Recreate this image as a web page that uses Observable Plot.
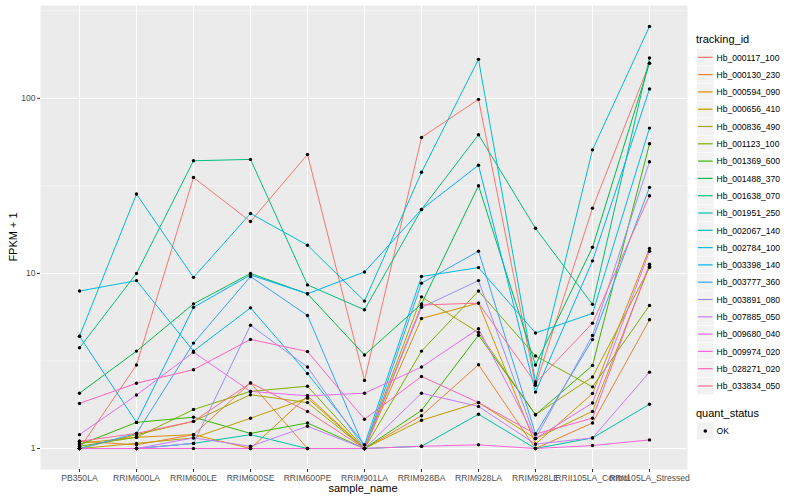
<!DOCTYPE html>
<html><head><meta charset="utf-8">
<script src="https://cdn.jsdelivr.net/npm/d3@7"></script>
<script src="https://cdn.jsdelivr.net/npm/@observablehq/plot@0.6"></script>
<style>
body{margin:0;background:#fff;}
#wrap{position:relative;width:800px;height:500px;font-family:"Liberation Sans",Arial,sans-serif;color:#000;}
.abs{position:absolute;white-space:nowrap;}
</style></head><body><div id="wrap"></div>
<script>
const samples = ["PB350LA","RRIM600LA","RRIM600LE","RRIM600SE","RRIM600PE","RRIM901LA","RRIM928BA","RRIM928LA","RRIM928LE","RRII105LA_Control","RRII105LA_Stressed"];
const trackingIds = ["Hb_000117_100","Hb_000130_230","Hb_000594_090","Hb_000656_410","Hb_000836_490","Hb_001123_100","Hb_001369_600","Hb_001488_370","Hb_001638_070","Hb_001951_250","Hb_002067_140","Hb_002784_100","Hb_003398_140","Hb_003777_360","Hb_003891_080","Hb_007885_050","Hb_009680_040","Hb_009974_020","Hb_028271_020","Hb_033834_050"];
const seriesColors = ["#F8766D","#EA8331","#D89000","#C09B00","#A3A500","#7CAE00","#39B600","#00BB4E","#00BF7D","#00C1A3","#00BFC4","#00BAE0","#00B0F6","#35A2FF","#9590FF","#C77CFF","#E76BF3","#FA62DB","#FF62BC","#FF6C91"];

// FPKM + 1 per sample, in the order of `samples`
const hb_000117_100 = [1.0, 3.0, 35.3, 19.8, 47.8, 2.45, 59.8, 98.7, 2.3, 23.6, 158.6];
const hb_000130_230 = [1.1, 1.05, 1.2, 2.37, 1.0, 1.0, 1.54, 3.01, 1.0, 1.40, 5.44];
const hb_000594_090 = [1.07, 1.16, 1.2, 1.0, 2.0, 1.0, 5.53, 6.77, 1.06, 2.06, 13.9];
const hb_000656_410 = [1.0, 1.07, 1.15, 1.49, 1.94, 1.0, 1.45, 1.83, 1.14, 1.63, 11.0];
const hb_000836_490 = [1.0, 1.2, 1.43, 2.03, 1.83, 1.0, 7.35, 4.6, 1.56, 2.56, 10.8];
const hb_001123_100 = [1.03, 1.16, 1.67, 2.12, 2.27, 1.0, 3.6, 7.93, 3.38, 2.25, 6.56];
const hb_001369_600 = [1.05, 1.41, 1.51, 1.22, 1.4, 1.0, 1.65, 4.44, 1.56, 2.98, 55];
const hb_001488_370 = [2.07, 3.6, 6.7, 10.0, 7.65, 3.42, 6.7, 31.7, 3.0, 14.1, 158.6];
const hb_001638_070 = [3.76, 10.0, 44, 44.8, 8.6, 6.2, 23.2, 62, 18.1, 6.66, 170];
const hb_001951_250 = [1.0, 1.0, 1.07, 1.2, 1.0, 1.0, 1.03, 1.57, 1.0, 1.15, 1.79];
const hb_002067_140 = [4.38, 28.4, 9.5, 22, 14.5, 6.95, 37.8, 167, 2.4, 50.8, 257.6];
const hb_002784_100 = [7.93, 9.1, 3.6, 6.36, 2.68, 1.05, 9.6, 10.8, 4.57, 5.91, 67.6];
const hb_003398_140 = [4.38, 1.41, 6.4, 9.8, 7.65, 10.2, 23.2, 41.5, 2.1, 11.8, 113];
const hb_003777_360 = [1.0, 1.22, 4.0, 9.6, 5.75, 1.0, 8.8, 13.4, 1.21, 4.19, 31];
const hb_003891_080 = [1.0, 1.0, 1.07, 5.06, 2.92, 1.0, 6.4, 9.1, 1.14, 4.42, 43.4];
const hb_007885_050 = [1.0, 1.0, 1.15, 1.03, 1.34, 1.0, 2.07, 1.74, 1.06, 1.15, 2.73];
const hb_009680_040 = [1.2, 2.02, 3.55, 2.12, 2.0, 2.07, 2.92, 4.83, 1.14, 1.82, 13.4];
const hb_009974_020 = [1.0, 1.0, 1.0, 1.0, 1.0, 1.0, 1.03, 1.05, 1.0, 1.04, 1.12];
const hb_028271_020 = [1.81, 2.36, 2.82, 4.2, 3.58, 1.47, 2.58, 1.83, 1.21, 1.49, 11.3];
const hb_033834_050 = [1.1, 1.22, 1.43, 2.37, 1.63, 1.0, 6.6, 6.77, 2.37, 5.2, 27.8];

const seriesValues = [hb_000117_100, hb_000130_230, hb_000594_090, hb_000656_410, hb_000836_490, hb_001123_100, hb_001369_600, hb_001488_370, hb_001638_070, hb_001951_250, hb_002067_140, hb_002784_100, hb_003398_140, hb_003777_360, hb_003891_080, hb_007885_050, hb_009680_040, hb_009974_020, hb_028271_020, hb_033834_050];
const quantStatus = ["OK"];
const yTicks = [1, 10, 100];
const yMinorTicks = [3.162, 31.62, 316.2];
const yDomain = [0.759, 339];

const rows = [];
trackingIds.forEach((id, i) => seriesValues[i].forEach((v, j) => rows.push({id, sample: samples[j], value: v, status: quantStatus[0]})));

const font = '"Liberation Sans", Arial, sans-serif';
const plot = Plot.plot({
  width: 800, height: 500,
  marginLeft: 40, marginRight: 113, marginTop: 5, marginBottom: 31,
  style: {background: "transparent", fontFamily: font, fontSize: "8.6px", color: "#4D4D4D"},
  x: {type: "point", domain: samples, padding: 0.6, label: null},
  y: {type: "log", domain: yDomain, label: null},
  color: {domain: trackingIds, range: seriesColors},
  marks: [
    Plot.frame({fill: "#EBEBEB", stroke: null}),
    Plot.ruleY(yMinorTicks, {y: d => d, stroke: "#fff", strokeWidth: 0.55}),
    Plot.ruleY(yTicks, {y: d => d, stroke: "#fff", strokeWidth: 1.1}),
    Plot.ruleX(samples, {x: d => d, stroke: "#fff", strokeWidth: 1.1}),
    Plot.line(rows, {x: "sample", y: "value", z: "id", stroke: "id", strokeWidth: 1}),
    Plot.dot(rows, {x: "sample", y: "value", r: 1.7, fill: "#000", stroke: null}),
    Plot.axisX({tickSize: 3, tickPadding: 2, fontSize: 8.6, label: null, stroke: "#333", fill: "#4D4D4D"}),
    Plot.axisY({ticks: yTicks, tickFormat: d => String(d), tickSize: 3, tickPadding: 2, fontSize: 8.6, label: null, stroke: "#333", fill: "#4D4D4D"})
  ]
});

const wrap = document.getElementById("wrap");
wrap.appendChild(plot);
plot.style.position = "absolute"; plot.style.left = "0"; plot.style.top = "0";

// overlay svg for titles and legend
const svg = d3.select(wrap).append("svg")
  .attr("width", 800).attr("height", 500)
  .style("position", "absolute").style("left", "0").style("top", "0")
  .style("font-family", font);

svg.append("text").attr("x", 363).attr("y", 492).attr("text-anchor", "middle")
  .attr("font-size", 11).attr("fill", "#000").text("sample_name");
svg.append("text").attr("transform", "translate(17,237) rotate(-90)").attr("text-anchor", "middle")
  .attr("font-size", 11).attr("fill", "#000").text("FPKM + 1");

svg.append("text").attr("x", 696).attr("y", 43).attr("font-size", 11).attr("fill", "#000").text("tracking_id");
const leg = svg.append("g");
trackingIds.forEach((id, i) => {
  const cy = 57.3 + i * 17.3;
  leg.append("rect").attr("x", 697).attr("y", cy - 8.3).attr("width", 16.6).attr("height", 16.6).attr("fill", "#F2F2F2");
  leg.append("line").attr("x1", 698).attr("x2", 712.6).attr("y1", cy).attr("y2", cy)
    .attr("stroke", seriesColors[i]).attr("stroke-width", 1.2);
  leg.append("text").attr("x", 716.5).attr("y", cy + 3.2).attr("font-size", 8.6).attr("fill", "#000").text(id);
});
svg.append("text").attr("x", 696).attr("y", 417).attr("font-size", 11).attr("fill", "#000").text("quant_status");
quantStatus.forEach((s, i) => {
  const cy = 431 + i * 17.3;
  leg.append("rect").attr("x", 697).attr("y", cy - 8.3).attr("width", 16.6).attr("height", 16.6).attr("fill", "#F2F2F2");
  leg.append("circle").attr("cx", 705.3).attr("cy", cy).attr("r", 1.8).attr("fill", "#000");
  leg.append("text").attr("x", 716.5).attr("y", cy + 3.2).attr("font-size", 8.6).attr("fill", "#000").text(s);
});
</script></body></html>
